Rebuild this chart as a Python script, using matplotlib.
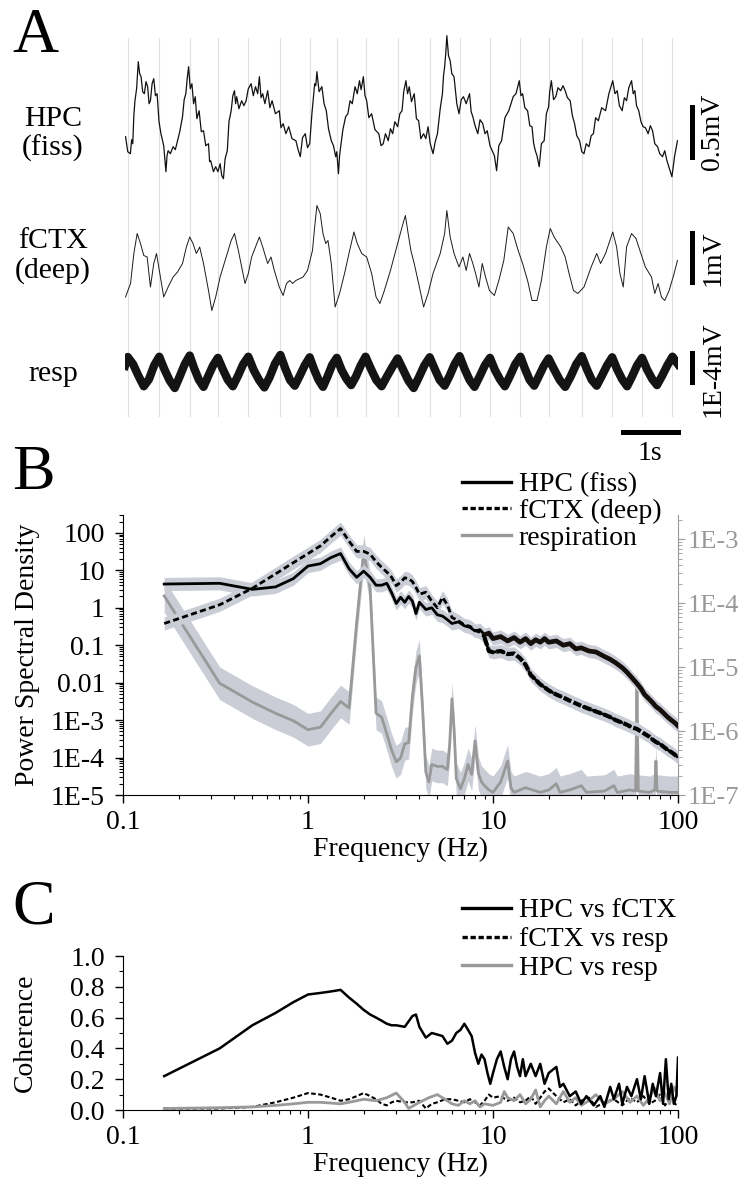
import numpy as np
import matplotlib
matplotlib.use('Agg')
import matplotlib.pyplot as plt
from matplotlib.lines import Line2D
from matplotlib.ticker import LogLocator, NullFormatter, MultipleLocator

plt.rcParams['font.family'] = ['Liberation Serif', 'DejaVu Serif']
plt.rcParams['font.size'] = 20

# ---------------- panel A: raw traces (time in s) ----------------
# respiration peaks = grey marker lines
resp_peak_t = [0.05, 0.62, 1.17, 1.68, 2.23, 2.81, 3.34, 3.83, 4.35, 4.93,
               5.51, 6.05, 6.60, 7.15, 7.66, 8.26, 8.81, 9.35, 9.90]

# HPC (fiss), mV
hpc_t = [0.01, 0.05, 0.097, 0.12, 0.14, 0.16, 0.18, 0.21, 0.24, 0.265, 0.29, 0.32, 0.35, 0.38,
         0.41, 0.435, 0.46, 0.49, 0.52, 0.55, 0.58, 0.615, 0.65, 0.70, 0.74, 0.76, 0.78, 0.82,
         0.87, 0.91, 0.95, 0.99, 1.04, 1.07, 1.10, 1.125, 1.15, 1.18, 1.21, 1.24, 1.27, 1.30,
         1.34, 1.38, 1.42, 1.46, 1.51, 1.53, 1.55, 1.60, 1.64, 1.68, 1.72, 1.75, 1.78, 1.81,
         1.85, 1.88, 1.92, 1.95, 1.98, 2.00, 2.02, 2.06, 2.11, 2.15, 2.19, 2.23, 2.28, 2.32,
         2.36, 2.40, 2.43, 2.46, 2.49, 2.53, 2.58, 2.62, 2.66, 2.72, 2.79, 2.82, 2.86, 2.91,
         2.96, 3.02, 3.09, 3.13, 3.17, 3.21, 3.26, 3.30, 3.34, 3.38, 3.43, 3.45, 3.47, 3.51,
         3.56, 3.60, 3.64, 3.68, 3.73, 3.77, 3.81, 3.83, 3.86, 3.88, 3.90, 3.94, 3.99, 4.03,
         4.07, 4.11, 4.16, 4.20, 4.24, 4.27, 4.31, 4.34, 4.37, 4.41, 4.46, 4.52, 4.59, 4.63,
         4.67, 4.71, 4.76, 4.80, 4.84, 4.88, 4.93, 4.97, 5.01, 5.04, 5.08, 5.11, 5.14, 5.18,
         5.23, 5.27, 5.31, 5.35, 5.40, 5.44, 5.48, 5.52, 5.57, 5.61, 5.65, 5.70, 5.74, 5.76,
         5.78, 5.80, 5.82, 5.85, 5.88, 5.91, 5.95, 6.00, 6.04, 6.08, 6.12, 6.17, 6.23, 6.26,
         6.29, 6.33, 6.38, 6.42, 6.47, 6.51, 6.55, 6.60, 6.64, 6.68, 6.72, 6.76, 6.81, 6.87,
         6.94, 6.98, 7.02, 7.07, 7.13, 7.16, 7.19, 7.23, 7.28, 7.32, 7.36, 7.39, 7.42, 7.45,
         7.49, 7.53, 7.58, 7.62, 7.66, 7.68, 7.71, 7.75, 7.79, 7.83, 7.88, 7.92, 7.96, 8.00,
         8.05, 8.09, 8.13, 8.17, 8.22, 8.26, 8.30, 8.34, 8.39, 8.43, 8.47, 8.51, 8.56, 8.62,
         8.69, 8.75, 8.82, 8.86, 8.90, 8.94, 8.99, 9.03, 9.07, 9.11, 9.16, 9.19, 9.22, 9.25,
         9.29, 9.33, 9.37, 9.41, 9.46, 9.50, 9.54, 9.58, 9.63, 9.67, 9.72, 9.76, 9.80, 9.84,
         9.89, 9.94, 9.99]
hpc_v = [-0.03, -0.18, -0.20, -0.06, -0.10, 0.18, 0.33, 0.45, 0.72, 0.60, 0.57, 0.42, 0.40, 0.52,
         0.47, 0.30, 0.33, 0.50, 0.55, 0.38, 0.40, 0.12, 0.0, -0.12, -0.38, -0.22, -0.17, -0.20,
         -0.13, -0.16, -0.07, 0.02, 0.17, 0.34, 0.40, 0.55, 0.67, 0.45, 0.50, 0.30, 0.37, 0.15,
         0.23, 0.02, 0.03, -0.12, -0.10, -0.28, -0.27, -0.38, -0.33, -0.38, -0.30, -0.42, -0.45, -0.25,
         -0.17, 0.12, 0.23, 0.38, 0.43, 0.30, 0.37, 0.25, 0.33, 0.28, 0.33, 0.45, 0.50, 0.38,
         0.47, 0.40, 0.57, 0.36, 0.40, 0.30, 0.43, 0.26, 0.33, 0.20, 0.23, 0.06, 0.10, 0.00,
         0.07, -0.05, -0.07, -0.16, -0.23, -0.04, 0.0, -0.14, -0.10, 0.20, 0.50, 0.48, 0.62, 0.42,
         0.47, 0.30, 0.23, 0.05, -0.07, -0.12, -0.23, -0.18, -0.40, -0.22, -0.13, 0.04, 0.17, 0.20,
         0.33, 0.30, 0.47, 0.40, 0.53, 0.44, 0.57, 0.38, 0.33, 0.16, 0.20, 0.04, 0.0, -0.12,
         -0.10, 0.0, -0.07, 0.05, 0.0, 0.12, 0.07, 0.20, 0.23, 0.42, 0.53, 0.40, 0.47, 0.32,
         0.40, 0.15, 0.13, -0.05, 0.0, -0.05, 0.07, -0.10, -0.20, -0.08, 0.0, 0.25, 0.40, 0.58,
         0.67, 0.80, 0.98, 0.78, 0.73, 0.60, 0.57, 0.30, 0.20, 0.34, 0.37, 0.30, 0.40, 0.22,
         0.17, 0.08, 0.0, 0.14, 0.10, 0.00, 0.03, -0.12, -0.17, -0.22, -0.37, -0.12, -0.07, 0.16,
         0.23, 0.30, 0.37, 0.40, 0.53, 0.38, 0.40, 0.26, 0.23, 0.08, 0.07, -0.10, -0.17, -0.22,
         -0.33, -0.10, -0.07, 0.20, 0.27, 0.42, 0.53, 0.34, 0.37, 0.46, 0.43, 0.48, 0.43, 0.36,
         0.33, 0.18, 0.10, -0.02, -0.07, -0.18, -0.20, -0.10, -0.13, -0.02, 0.0, 0.16, 0.13, 0.26,
         0.23, 0.40, 0.53, 0.40, 0.43, 0.28, 0.23, 0.36, 0.33, 0.46, 0.53, 0.40, 0.43, 0.28,
         0.23, 0.12, 0.07, 0.06, 0.0, 0.08, 0.03, -0.10, -0.13, -0.20, -0.23, -0.17, -0.27, -0.34,
         -0.43, -0.22, -0.07]

# fCTX (deep), mV
ctx_t = [0.01, 0.10, 0.16, 0.22, 0.28, 0.34, 0.40, 0.46, 0.52, 0.57, 0.61, 0.70, 0.78, 0.87,
         0.95, 1.04, 1.11, 1.17, 1.23, 1.29, 1.35, 1.42, 1.51, 1.57, 1.64, 1.72, 1.83, 1.92,
         1.98, 2.05, 2.11, 2.17, 2.23, 2.29, 2.36, 2.43, 2.49, 2.58, 2.64, 2.70, 2.79, 2.86,
         2.92, 2.98, 3.03, 3.09, 3.22, 3.30, 3.39, 3.43, 3.47, 3.53, 3.58, 3.63, 3.67, 3.73,
         3.80, 3.88, 3.97, 4.05, 4.14, 4.20, 4.28, 4.37, 4.46, 4.54, 4.61, 4.69, 4.80, 4.93,
         5.01, 5.07, 5.12, 5.17, 5.23, 5.31, 5.40, 5.48, 5.57, 5.70, 5.78, 5.82, 5.88, 5.95,
         6.04, 6.11, 6.17, 6.23, 6.29, 6.34, 6.40, 6.46, 6.52, 6.59, 6.68, 6.76, 6.85, 6.93,
         7.02, 7.11, 7.19, 7.28, 7.36, 7.45, 7.53, 7.62, 7.69, 7.76, 7.88, 7.96, 8.03, 8.11,
         8.19, 8.30, 8.43, 8.53, 8.60, 8.69, 8.82, 8.89, 8.95, 9.01, 9.07, 9.16, 9.24, 9.33,
         9.41, 9.52, 9.58, 9.64, 9.70, 9.76, 9.84, 9.93, 9.99]
ctx_v = [-0.60, -0.33, 0.27, 0.67, 0.47, 0.23, 0.20, -0.40, 0.07, 0.27, 0.0, -0.60, -0.40, -0.20,
         -0.10, 0.07, 0.40, 0.60, 0.47, 0.27, 0.40, 0.07, -0.47, -0.87, -0.60, -0.20, 0.20, 0.53,
         0.67, 0.33, 0.0, -0.33, -0.13, 0.20, 0.40, 0.60, 0.40, 0.07, 0.20, -0.07, -0.40, -0.57,
         -0.33, -0.27, -0.33, -0.27, -0.20, -0.07, 0.33, 0.80, 1.23, 1.07, 0.67, 0.47, 0.53, 0.07,
         -0.80, -0.53, -0.13, 0.27, 0.70, 0.47, 0.27, 0.20, -0.13, -0.60, -0.73, -0.47, -0.07, 0.47,
         0.80, 1.03, 0.67, 0.33, 0.07, -0.33, -0.80, -0.53, -0.13, 0.27, 0.67, 1.13, 0.60, 0.27,
         0.0, 0.20, -0.07, 0.27, 0.07, -0.13, -0.40, 0.07, -0.20, -0.47, -0.57, -0.27, 0.13, 0.80,
         0.67, 0.33, 0.07, -0.27, -0.67, -0.67, -0.27, 0.40, 0.77, 0.60, 0.40, 0.20, -0.13, -0.47,
         -0.53, -0.40, 0.0, 0.27, 0.07, 0.27, 0.70, 0.40, -0.13, -0.40, 0.40, 0.67, 0.57, 0.27,
         0.0, -0.20, -0.53, -0.33, -0.60, -0.67, -0.47, -0.13, 0.13]

# respiration, units of 1E-4 mV
resp_t = [0.0, 0.05, 0.147, 0.243, 0.34, 0.433, 0.527, 0.62, 0.713, 0.807, 0.90, 0.99, 1.08,
          1.17, 1.253, 1.337, 1.42, 1.507, 1.593, 1.68, 1.77, 1.86, 1.95, 2.043, 2.137, 2.23,
          2.327, 2.423, 2.52, 2.617, 2.713, 2.81, 2.897, 2.983, 3.07, 3.16, 3.25, 3.34, 3.42,
          3.50, 3.58, 3.663, 3.747, 3.83, 3.917, 4.003, 4.09, 4.177, 4.263, 4.35, 4.447, 4.543,
          4.64, 4.737, 4.833, 4.93, 5.027, 5.123, 5.22, 5.317, 5.413, 5.51, 5.60, 5.69, 5.78,
          5.87, 5.96, 6.05, 6.14, 6.23, 6.32, 6.413, 6.507, 6.60, 6.69, 6.78, 6.87, 6.963, 7.057,
          7.15, 7.233, 7.317, 7.40, 7.487, 7.573, 7.66, 7.76, 7.86, 7.96, 8.06, 8.16, 8.26, 8.35,
          8.44, 8.53, 8.623, 8.717, 8.81, 8.90, 8.99, 9.08, 9.17, 9.26, 9.35, 9.44, 9.53, 9.62,
          9.713, 9.807, 9.90, 10.0]
resp_v = [0.25, 0.55, 0.30, -0.10, -0.46, -0.22, 0.26, 0.56, 0.12, -0.26, -0.52, -0.12, 0.30,
          0.60, 0.15, -0.24, -0.48, -0.10, 0.26, 0.52, 0.12, -0.24, -0.46, -0.10, 0.30, 0.56,
          0.10, -0.24, -0.50, -0.14, 0.32, 0.62, 0.16, -0.24, -0.44, -0.10, 0.26, 0.54, 0.12,
          -0.24, -0.48, -0.12, 0.28, 0.52, 0.10, -0.20, -0.42, -0.12, 0.26, 0.56, 0.14, -0.24,
          -0.46, -0.12, 0.20, 0.50, 0.12, -0.26, -0.52, -0.14, 0.26, 0.54, 0.14, -0.24, -0.44,
          -0.10, 0.30, 0.58, 0.14, -0.24, -0.48, -0.12, 0.26, 0.52, 0.10, -0.22, -0.46, -0.10,
          0.30, 0.56, 0.14, -0.24, -0.44, -0.10, 0.24, 0.50, 0.12, -0.24, -0.48, -0.12, 0.30,
          0.58, 0.14, -0.24, -0.44, -0.10, 0.26, 0.54, 0.12, -0.22, -0.46, -0.12, 0.26, 0.52,
          0.12, -0.20, -0.42, -0.10, 0.26, 0.56, 0.30]

# ---------------- panel B: power spectra ----------------
psd_f = [0.167, 0.333, 0.5, 0.667, 0.833, 1.0, 1.167, 1.333, 1.5, 1.667, 1.833, 2.0, 2.167,
         2.333, 2.5, 2.667, 2.833, 3.0, 3.167, 3.333, 3.5, 3.667, 3.833,
         4.0, 4.333, 4.667, 5.0, 5.333, 5.667, 6.0,
         6.5, 7.0, 7.5, 8.0, 8.5, 9.0, 9.5, 10,
         11, 12, 13, 14, 15, 16, 17, 18, 19, 20,
         22, 24, 26, 28, 30,
         33, 36, 40, 43, 46, 50, 53, 56, 60, 63, 66, 70, 73, 76, 80, 84, 88, 92, 96, 100]
psd_hpc = [4.3, 4.5, 3.1, 3.6, 6.0, 13, 15, 22, 28, 11, 6.5, 9.5, 6.5,
           4.0, 4.0, 4.5, 2.5, 1.3, 1.9, 1.4, 2.0, 1.5, 0.7,
           1.4, 0.9, 1.0, 0.65, 0.6, 0.48, 0.38,
           0.42, 0.33, 0.30, 0.24, 0.26, 0.19, 0.21, 0.15,
           0.17, 0.13, 0.16, 0.12, 0.15, 0.11, 0.14, 0.12, 0.15, 0.12,
           0.13, 0.10, 0.11, 0.08, 0.085,
           0.07, 0.066, 0.05, 0.042, 0.034, 0.025, 0.019, 0.014, 0.0095, 0.007, 0.0048, 0.0036,
           0.0029, 0.0023, 0.0019, 0.0015, 0.0012, 0.001, 0.00085, 0.0007]
psd_ctx = [0.38, 1.2, 3.3, 8, 16, 28, 45, 80, 130, 60, 32, 32, 27,
           17, 12, 9, 6.5, 3.9, 4.8, 6.3, 6.0, 5.0, 3.5,
           2.3, 2.6, 1.5, 1.0, 1.9, 1.2, 0.55,
           0.45, 0.35, 0.32, 0.25, 0.22, 0.16, 0.07, 0.065,
           0.07, 0.058, 0.06, 0.045, 0.03, 0.016, 0.012, 0.009, 0.0075, 0.0062,
           0.0048, 0.004, 0.0033, 0.0028, 0.0024,
           0.002, 0.0017, 0.0014, 0.0012, 0.001, 0.00085, 0.00075, 0.00065, 0.00058, 0.0005,
           0.00043, 0.00036, 0.0003, 0.00026, 0.00023, 0.00019, 0.00016, 0.00014, 0.00012, 0.0001]

resp_f = [0.167, 0.333, 0.5, 0.667, 0.833, 1.0, 1.167, 1.333, 1.5, 1.667, 1.833, 2.0, 2.167,
          2.333, 2.5, 2.667, 2.833, 3.0, 3.167, 3.333, 3.5, 3.667, 3.833, 4.0, 4.167, 4.333,
          4.5, 4.667, 5.0, 5.333, 5.667, 5.833, 6.0, 6.167, 6.333, 6.667, 7.0, 7.333, 7.667,
          8.0, 8.333, 8.667, 9.0, 9.5, 10, 11, 12, 12.5, 13, 15, 18, 20, 22, 23, 26, 30, 32,
          40, 45, 47, 55, 59, 60, 61, 70, 75, 76, 77, 90, 100]
resp_psd = [1.3e-4, 5.6e-6, 2.85e-6, 1.9e-6, 1.45e-6, 1.05e-6, 1.15e-6, 1.9e-6, 2.9e-6, 2.3e-6,
            5e-5, 6.5e-4, 1.7e-4, 1.9e-6, 1.65e-6, 9e-7, 5e-7, 3.3e-7, 3.8e-7, 6.3e-7, 6.6e-7,
            3.5e-6, 1e-5, 1.5e-5, 2.1e-6, 2.3e-7, 1.6e-7, 3e-7, 2.8e-7, 2.8e-7, 2.5e-7, 6.3e-7,
            3.2e-6, 1e-6, 1.8e-7, 1.25e-7, 1.8e-7, 3e-7, 2.1e-7, 7e-7, 2.2e-7, 1.6e-7,
            1.4e-7, 1.2e-7, 1.1e-7, 1.6e-7, 3.4e-7, 1.3e-7, 1.1e-7, 1.3e-7, 1.1e-7, 1.2e-7, 1.5e-7,
            1.1e-7, 1.2e-7, 1.4e-7, 1.1e-7, 1.15e-7, 1.4e-7, 1.1e-7, 1.2e-7, 1.15e-7, 5.8e-6,
            1.15e-7, 1.1e-7, 1.2e-7, 3.4e-7, 1.15e-7, 1.1e-7, 1.1e-7]

# ---------------- panel C: coherence ----------------
coh1_f = [0.167, 0.333, 0.5, 0.667, 0.833, 1.0, 1.167, 1.333, 1.5, 1.667, 1.833, 2.0, 2.167,
          2.333, 2.5, 2.667, 2.833, 3.0, 3.333, 3.667, 3.833, 4.0, 4.333, 4.667, 5.0, 5.333,
          5.667, 6.0, 6.333, 6.667, 7.0, 7.333, 7.667, 8.0, 8.333, 8.667, 9.0, 9.333, 9.667,
          10, 10.5, 11, 11.5, 12, 12.5, 13, 13.5, 14, 14.5, 15, 16, 17, 18, 19, 20, 22, 23,
          24, 26, 28, 30, 32, 35, 38, 40, 43, 45, 48, 50, 53, 56, 60, 63, 66, 70, 73, 76, 80,
          83, 86, 89, 92, 95, 98, 100]
coh_hpc_ctx = [0.22, 0.40, 0.55, 0.63, 0.70, 0.75, 0.76, 0.77, 0.78, 0.73, 0.69, 0.65, 0.62,
               0.60, 0.58, 0.56, 0.55, 0.55, 0.54, 0.61, 0.62, 0.54, 0.47, 0.50, 0.49, 0.48,
               0.43, 0.45, 0.50, 0.52, 0.56, 0.52, 0.48, 0.37, 0.30, 0.36, 0.33, 0.24, 0.17,
               0.24, 0.33, 0.38, 0.28, 0.20, 0.33, 0.38, 0.28, 0.22, 0.33, 0.22, 0.30, 0.22,
               0.30, 0.17, 0.24, 0.28, 0.15, 0.17, 0.09, 0.12, 0.04, 0.09, 0.03, 0.09, 0.02,
               0.15, 0.07, 0.17, 0.04, 0.15, 0.09, 0.20, 0.07, 0.22, 0.04, 0.17, 0.09, 0.24,
               0.04, 0.33, 0.07, 0.17, 0.04, 0.09, 0.34]

coh2_f = [0.167, 0.333, 0.5, 0.667, 0.833, 1.0, 1.167, 1.333, 1.5, 1.667, 1.833, 2.0, 2.167,
          2.333, 2.5, 2.667, 2.833, 3.0, 3.333, 3.667, 4.0, 4.333, 4.667, 5.0, 5.5, 6.0, 6.5,
          7.0, 7.5, 8.0, 8.5, 9.0, 9.5, 10, 11, 12, 13, 14, 15, 16, 17, 18, 19, 20, 22, 24,
          26, 28, 30, 33, 36, 40, 45, 50, 55, 60, 65, 70, 75, 80, 85, 90, 95, 100]
coh_ctx_resp = [0.01, 0.01, 0.02, 0.05, 0.08, 0.11, 0.10, 0.08, 0.06, 0.07, 0.09, 0.11, 0.09,
                0.07, 0.04, 0.03, 0.05, 0.06, 0.05, 0.05, 0.06, 0.01, 0.04, 0.05, 0.07, 0.07,
                0.06, 0.05, 0.07, 0.05, 0.03, 0.06, 0.10, 0.08, 0.09, 0.06, 0.08, 0.05, 0.06,
                0.09, 0.04, 0.08, 0.12, 0.14, 0.09, 0.05, 0.07, 0.03, 0.06, 0.08, 0.02, 0.05,
                0.07, 0.03, 0.08, 0.05, 0.09, 0.04, 0.06, 0.10, 0.03, 0.07, 0.05, 0.02]

coh3_f = [0.167, 0.333, 0.5, 0.667, 0.833, 1.0, 1.167, 1.333, 1.5, 1.667, 1.833, 2.0, 2.333,
          2.667, 3.0, 3.333, 3.5, 4.0, 4.5, 5.0, 5.5, 6.0, 6.5, 7.0, 7.5, 8.0, 8.5, 9.0, 10,
          11, 11.5, 12, 13, 14, 15, 16, 17, 18, 19, 20, 22, 24, 26, 28, 30, 33, 36, 40, 45,
          50, 55, 60, 65, 70, 75, 80, 85, 90, 95, 100]
coh_hpc_resp = [0.01, 0.015, 0.02, 0.03, 0.04, 0.05, 0.05, 0.045, 0.04, 0.05, 0.06, 0.07,
                0.06, 0.08, 0.11, 0.05, 0.01, 0.05, 0.08, 0.10, 0.07, 0.04, 0.03, 0.06, 0.04,
                0.06, 0.02, 0.04, 0.03, 0.05, 0.12, 0.08, 0.06, 0.10, 0.04, 0.07, 0.13, 0.02,
                0.06, 0.09, 0.04, 0.12, 0.05, 0.08, 0.03, 0.06, 0.10, 0.04, 0.07, 0.12, 0.05,
                0.09, 0.03, 0.08, 0.14, 0.06, 0.11, 0.04, 0.15, 0.10]

# ================================================================
W, H = 743, 1184
fig = plt.figure(figsize=(W / 100, H / 100), dpi=100)


def add_ax(x0, y0, x1, y1):
    # pixel box (from top-left) -> figure fraction
    return fig.add_axes([x0 / W, 1 - y1 / H, (x1 - x0) / W, (y1 - y0) / H])


grey_line = '#999999'
band_col = '#cacdd6'

# ---------- A ----------
axA = add_ax(125, 38, 678, 417)
axA.set_xlim(0, 10)
axA.set_ylim(0, 1)
axA.axis('off')
for t in resp_peak_t:
    axA.axvline(t, color='#e0e0e0', lw=0.8)

ax_hpc = add_ax(125, 30, 678, 190)
ax_ctx = add_ax(125, 195, 678, 320)
ax_resp = add_ax(125, 330, 678, 415)
for a, yl in ((ax_hpc, (-0.563, 1.037)), (ax_ctx, (-1.06, 1.44)), (ax_resp, (-1.45, 1.48))):
    a.set_xlim(0, 10)
    a.set_ylim(*yl)
    a.axis('off')

ax_hpc.plot(hpc_t, hpc_v, color='#111111', lw=0.9)
ax_ctx.plot(ctx_t, ctx_v, color='#1a1a1a', lw=0.7)
ax_resp.plot(resp_t, resp_v, color='#141414', lw=6.0)

# scale bars
bar_x = 10.25
ax_hpc.plot([bar_x, bar_x], [-0.233, 0.267], color='k', lw=3.6, clip_on=False)
ax_hpc.text(10.63, 0.02, '0.5mV', rotation=90, ha='center', va='center')
ax_ctx.plot([bar_x, bar_x], [-0.30, 0.68], color='k', lw=3.6, clip_on=False)
ax_ctx.text(10.63, 0.18, '1mV', rotation=90, ha='center', va='center')
ax_resp.plot([bar_x, bar_x], [-0.31, 0.69], color='k', lw=3.6, clip_on=False)
ax_resp.text(10.63, 0.14, '1E-4mV', rotation=90, ha='center', va='center')
ax_resp.plot([9.0, 10.0], [-2.03, -2.03], color='k', lw=3.6, clip_on=False)
ax_resp.text(9.5, -2.76, '1s', ha='center', va='center')

fig.text(53 / W, 1 - 134 / H, 'HPC\n(fiss)', ha='center', va='center', linespacing=1.15,
         fontsize=21.5)
fig.text(53 / W, 1 - 256 / H, 'fCTX\n(deep)', ha='center', va='center', linespacing=1.15,
         fontsize=21.5)
fig.text(53 / W, 1 - 374 / H, 'resp', ha='center', va='center', fontsize=21.5)

# ---------- B ----------
axB = add_ax(123, 515, 678, 795)
axB2 = axB.twinx()
axB.set_zorder(axB2.get_zorder() + 1)
axB.patch.set_visible(False)

axB.set_xscale('log')
axB.set_yscale('log')
axB.set_xlim(0.1, 100)
axB.set_ylim(1e-5, 300)
axB2.set_yscale('log')
axB2.set_ylim(1e-7, 2.4e-3)

f = np.array(psd_f)
ph = np.array(psd_hpc)
pc = np.array(psd_ctx)
hi = f >= 9
axB.fill_between(f, pc / 1.5, pc * 1.5, color=band_col, lw=0)
axB.fill_between(f, ph / 1.5, ph * 1.5, color=band_col, lw=0)
axB.plot(f, ph, color='k', lw=2.0)
axB.plot(f[hi], ph[hi], color='#150f0c', lw=3.4)
axB.plot(f, pc, color='k', lw=2.0, ls=(0, (2.2, 1.2)))
axB.plot(f[hi], pc[hi], color='k', lw=3.0, ls=(0, (2.0, 0.6)))

rf = np.array(resp_f)
rp = np.array(resp_psd)
axB2.fill_between(rf, rp / 1.8, rp * 1.8, color=band_col, lw=0)
axB2.plot(rf, rp, color=grey_line, lw=2.0)

axB.set_xticks([0.1, 1, 10, 100], labels=['0.1', '1', '10', '100'])
axB.xaxis.set_minor_locator(LogLocator(base=10, subs=np.arange(2, 10), numticks=20))
axB.xaxis.set_minor_formatter(NullFormatter())
axB.set_yticks([1e-5, 1e-4, 1e-3, 1e-2, 0.1, 1, 10, 100],
               labels=['1E-5', '1E-4', '1E-3', '0.01', '0.1', '1', '10', '100'])
axB.yaxis.set_minor_locator(LogLocator(base=10, subs=np.arange(2, 10), numticks=20))
axB.yaxis.set_minor_formatter(NullFormatter())
axB2.set_yticks([1e-7, 1e-6, 1e-5, 1e-4, 1e-3],
                labels=['1E-7', '1E-6', '1E-5', '1E-4', '1E-3'], fontsize=19)
axB2.yaxis.set_minor_locator(LogLocator(base=10, subs=np.arange(2, 10), numticks=20))
axB2.yaxis.set_minor_formatter(NullFormatter())

for s in ('top', 'right'):
    axB.spines[s].set_visible(False)
for s in ('top', 'left', 'bottom'):
    axB2.spines[s].set_visible(False)
axB2.spines['right'].set_color(grey_line)
axB2.tick_params(axis='y', which='both', colors=grey_line, direction='out', pad=2)
axB2.tick_params(which='major', length=5)
axB2.tick_params(which='minor', length=3)

axB.set_ylabel('Power Spectral Density')
axB.yaxis.set_label_coords(-0.15, 0.5)
axB.set_xlabel('Frequency (Hz)', va='top')
axB.xaxis.set_label_coords(0.5, -0.15)

axB.legend(handles=[Line2D([], [], color='k', lw=2.4),
                    Line2D([], [], color='k', lw=2.4, ls=(0, (1.6, 0.8))),
                    Line2D([], [], color=grey_line, lw=2.4)],
           labels=['HPC (fiss)', 'fCTX (deep)', 'respiration'],
           loc='upper left', bbox_to_anchor=(462 / W, 1 - 472 / H),
           bbox_transform=fig.transFigure, frameon=False, borderpad=0,
           handlelength=1.75, handletextpad=0.3, labelspacing=0.04, borderaxespad=0)

# ---------- C ----------
axC = add_ax(123, 956, 678, 1110)
axC.set_xscale('log')
axC.set_xlim(0.1, 100)
axC.set_ylim(0, 1)
axC.plot(coh2_f, coh_ctx_resp, color='k', lw=1.5, ls=(0, (2.2, 1.2)))
axC.plot(coh3_f, coh_hpc_resp, color=grey_line, lw=2.0)
axC.plot(coh1_f, coh_hpc_ctx, color='k', lw=1.8)

axC.set_xticks([0.1, 1, 10, 100], labels=['0.1', '1', '10', '100'])
axC.xaxis.set_minor_locator(LogLocator(base=10, subs=np.arange(2, 10), numticks=20))
axC.xaxis.set_minor_formatter(NullFormatter())
axC.set_yticks([0, 0.2, 0.4, 0.6, 0.8, 1.0], labels=['0.0', '0.2', '0.4', '0.6', '0.8', '1.0'])
axC.yaxis.set_minor_locator(MultipleLocator(0.1))
for s in ('top', 'right'):
    axC.spines[s].set_visible(False)
axC.set_ylabel('Coherence')
axC.yaxis.set_label_coords(-0.153, 0.5)
axC.set_xlabel('Frequency (Hz)', va='top')
axC.xaxis.set_label_coords(0.5, -0.27)

axC.legend(handles=[Line2D([], [], color='k', lw=2.4),
                    Line2D([], [], color='k', lw=2.4, ls=(0, (1.6, 0.8))),
                    Line2D([], [], color=grey_line, lw=2.4)],
           labels=['HPC vs fCTX', 'fCTX vs resp', 'HPC vs resp'],
           loc='upper left', bbox_to_anchor=(462 / W, 1 - 898 / H),
           bbox_transform=fig.transFigure, frameon=False, borderpad=0,
           handlelength=1.75, handletextpad=0.3, labelspacing=0.12, borderaxespad=0)

for a in (axB, axC):
    a.tick_params(which='major', length=6, width=1, direction='out')
    a.tick_params(which='minor', length=3, width=0.8, direction='out')
    a.tick_params(axis='x', pad=5)
    a.tick_params(axis='y', pad=7)

# panel letters
fig.text(12 / W, 1 - 52 / H, 'A', fontsize=46, va='baseline')
fig.text(12 / W, 1 - 489 / H, 'B', fontsize=46, va='baseline')
fig.text(12 / W, 1 - 923 / H, 'C', fontsize=46, va='baseline')

fig.savefig('out.png', dpi=100)
